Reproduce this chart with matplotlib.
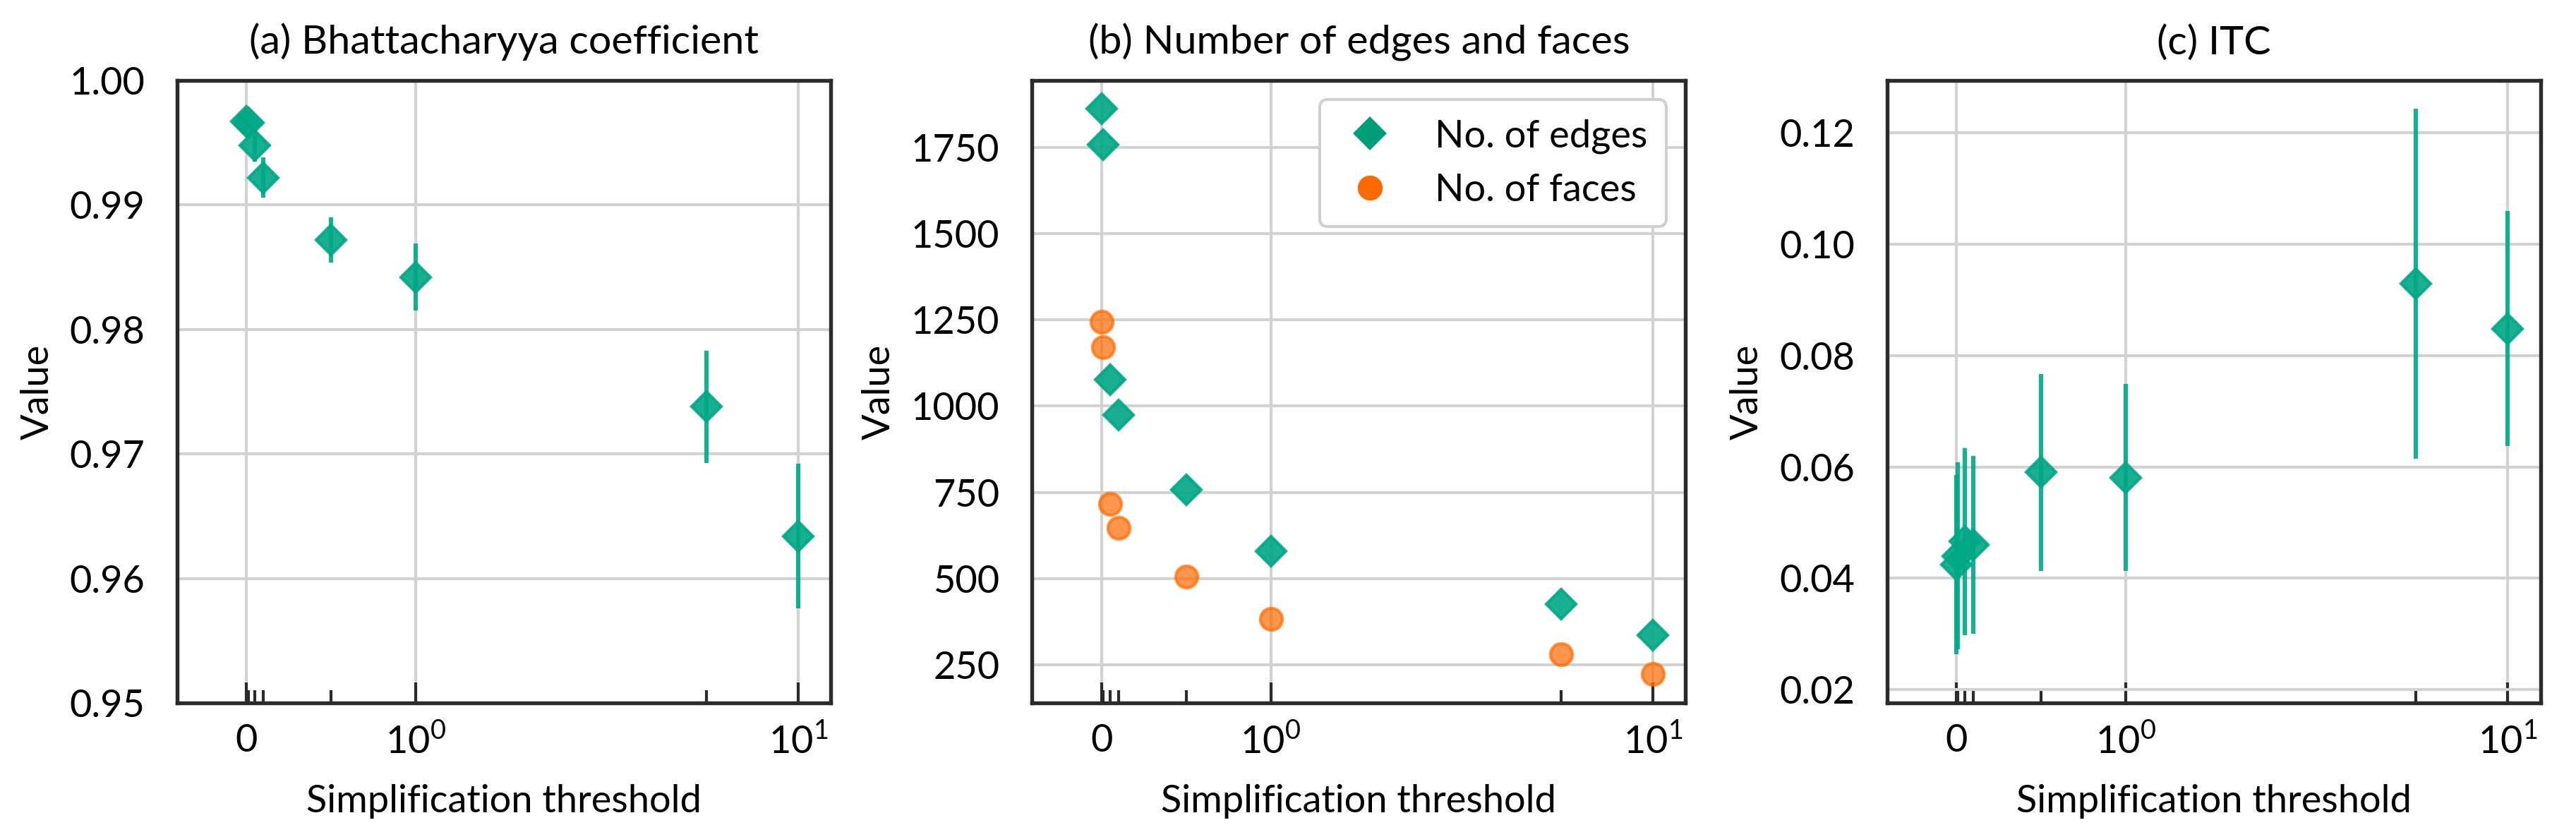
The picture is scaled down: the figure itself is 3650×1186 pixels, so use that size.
"""Three-panel summary of mesh simplification: BC, edge/face counts and ITC
against the simplification threshold (symlog x axis)."""
import numpy as np
import matplotlib
matplotlib.use("Agg")
import matplotlib.pyplot as plt
from matplotlib.ticker import FixedLocator, FixedFormatter, FormatStrFormatter

FONT = "Lato"
plt.rcParams["font.family"] = [FONT, "DejaVu Sans"]
plt.rcParams["mathtext.fontset"] = "custom"
plt.rcParams["mathtext.rm"] = FONT
plt.rcParams["mathtext.it"] = FONT
plt.rcParams["font.size"] = 13
plt.rcParams["axes.titlesize"] = 13.8

GREEN = "#00a886"
ORANGE = "#ff6a00"
GRID = "#d2d2d2"
SPINE = "#2b2b2b"

# values
thresholds = [0, 0.01, 0.05, 0.1, 0.5, 1, 5, 10]

bc_mean = [0.9967, 0.9966, 0.9948, 0.9922, 0.9872, 0.9842, 0.9738, 0.9634]
bc_std = [0.0008, 0.0008, 0.0013, 0.0016, 0.0018, 0.0027, 0.0045, 0.0058]

n_edges = [1862, 1758, 1076, 974, 758, 579, 425, 335]
n_faces = [1244, 1171, 717, 647, 506, 383, 281, 223]

itc_mean = [0.0425, 0.0440, 0.0466, 0.0460, 0.0590, 0.0581, 0.0929, 0.0848]
itc_std = [0.0161, 0.0168, 0.0168, 0.0160, 0.0177, 0.0168, 0.0314, 0.0211]

major_x = [0, 1, 10]
major_labels = ["0", r"$10^0$", r"$10^1$"]


def style_axes(ax, title):
    ax.set_xscale("symlog", linthresh=2, linscale=1)
    ax.set_xlim(-0.41, 12.8)
    ax.xaxis.set_major_locator(FixedLocator(major_x))
    ax.xaxis.set_major_formatter(FixedFormatter(major_labels))
    ax.xaxis.set_minor_locator(
        FixedLocator([t for t in thresholds if t not in major_x]))
    ax.tick_params(axis="x", which="major", direction="in", length=7,
                   width=1.0, color=SPINE, pad=7)
    ax.tick_params(axis="x", which="minor", direction="in", length=4.3,
                   width=1.0, color=SPINE)
    ax.tick_params(axis="y", length=0, pad=11)
    ax.grid(True, which="major", color=GRID, linewidth=1.0)
    ax.set_axisbelow(True)
    for s in ax.spines.values():
        s.set_color(SPINE)
        s.set_linewidth(1.3)
    ax.set_title(title, pad=9)
    ax.set_xlabel("Simplification threshold", labelpad=8)
    ax.set_ylabel("Value", labelpad=5)


fig, axes = plt.subplots(1, 3, figsize=(3650 / 300, 1186 / 300))
fig.subplots_adjust(left=0.0688, right=0.9862, top=0.904, bottom=0.160,
                    wspace=0.308)

# (a) Bhattacharyya coefficient
ax = axes[0]
ax.errorbar(thresholds, bc_mean, yerr=bc_std, fmt="D", color=GREEN,
            ms=7, elinewidth=1.5, capsize=0, alpha=0.9)
ax.set_ylim(0.95, 1.0)
ax.set_yticks([0.95, 0.96, 0.97, 0.98, 0.99, 1.00])
ax.yaxis.set_major_formatter(FormatStrFormatter("%.2f"))
style_axes(ax, "(a) Bhattacharyya coefficient")

# (b) number of edges and faces
ax = axes[1]
ax.plot(thresholds, n_edges, "D", color=GREEN, ms=7, alpha=0.9,
        label="No. of edges")
ax.plot(thresholds, n_faces, "o", color=ORANGE, ms=7.5, alpha=0.7,
        label="No. of faces")
ax.set_ylim(139, 1944)
ax.set_yticks([250, 500, 750, 1000, 1250, 1500, 1750])
style_axes(ax, "(b) Number of edges and faces")
leg = ax.legend(loc="upper right", frameon=True, fancybox=True,
                edgecolor="#d0d0d0", framealpha=1.0, labelspacing=0.5,
                handlelength=1.6, handletextpad=0.9, borderpad=0.5)
for h in leg.legend_handles:
    h.set_alpha(1.0)
leg.legend_handles[0].set_color("#009e78")

# (c) ITC
ax = axes[2]
ax.errorbar(thresholds, itc_mean, yerr=itc_std, fmt="D", color=GREEN,
            ms=7, elinewidth=1.5, capsize=0, alpha=0.9)
ax.set_ylim(0.0176, 0.1294)
ax.set_yticks([0.02, 0.04, 0.06, 0.08, 0.10, 0.12])
ax.yaxis.set_major_formatter(FormatStrFormatter("%.2f"))
style_axes(ax, "(c) ITC")

fig.savefig("out.png", dpi=300, facecolor="white")
plt.close(fig)
